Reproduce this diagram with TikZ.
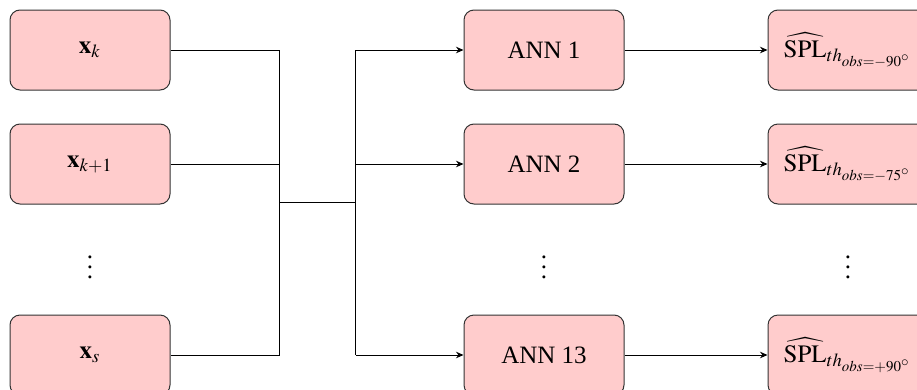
\documentclass[tikz,border=0pt]{standalone}
\usepackage{mathptmx}
\usepackage{fontspec}
\setmainfont{Liberation Serif}
\usetikzlibrary{arrows.meta, positioning}

\begin{document}
\begin{tikzpicture}[
        blk/.style={rectangle, draw=black!80, thin, rounded corners=4pt,
                  fill=red!20, minimum width=64pt, minimum height=32pt,
                  inner sep=1pt, align=center},
        arr/.style={-{Stealth[length=3pt,width=2.6pt]}, thin},
        node distance=13.2pt and 117.2pt]
      \useasboundingbox (0,0) rectangle (366.8pt,-155.6pt);
      % inputs
      \node[blk] (xk) at (36pt,-20pt) {$\mathbf{x}_k$};
      \node[blk, below=of xk] (xk1) {$\mathbf{x}_{k+1}$};
      \node[blk, below=44pt of xk1] (xs) {$\mathbf{x}_s$};
      \path (xk1) -- (xs) node[midway] (xdots) {$\vdots$};
      % networks
      \node[blk, right=of xk] (ann1) {ANN 1};
      \node[blk, right=of xk1] (ann2) {ANN 2};
      \node[blk, right=of xs] (ann13) {ANN 13};
      \path (ann2) -- (ann13) node[midway] (anndots) {$\vdots$};
      % outputs
      \node[blk, right=57.2pt of ann1] (spl1) {$\widehat{\mathrm{SPL}}_{th_{obs=-90^\circ}}$};
      \node[blk, right=57.2pt of ann2] (spl2) {$\widehat{\mathrm{SPL}}_{th_{obs=-75^\circ}}$};
      \node[blk, right=57.2pt of ann13] (spl13) {$\widehat{\mathrm{SPL}}_{th_{obs=+90^\circ}}$};
      \path (spl2) -- (spl13) node[midway] (spldots) {$\vdots$};
      % bus lines
      \coordinate[right=43.6pt of xk.east] (b1top);
      \coordinate[right=43.6pt of xs.east] (b1bot);
      \coordinate[left=43.2pt of ann1.west] (b2top);
      \coordinate[left=43.2pt of ann13.west] (b2bot);
      \path (b1top) -- (b1bot) coordinate[midway] (b1mid);
      \path (b2top) -- (b2bot) coordinate[midway] (b2mid);
      \draw (xk.east) -- (b1top) -- (b1bot) -- (xs.east);
      \draw (xk1.east) -- (xk1.east -| b1top);
      \draw (b1mid) -- (b2mid);
      \draw (b2top) -- (b2bot);
      \draw[arr] (b2top) -- (ann1.west);
      \draw[arr] (ann2.west -| b2top) -- (ann2.west);
      \draw[arr] (b2bot) -- (ann13.west);
      \draw[arr] (ann1) -- (spl1);
      \draw[arr] (ann2) -- (spl2);
      \draw[arr] (ann13) -- (spl13);
    \end{tikzpicture}
\end{document}
